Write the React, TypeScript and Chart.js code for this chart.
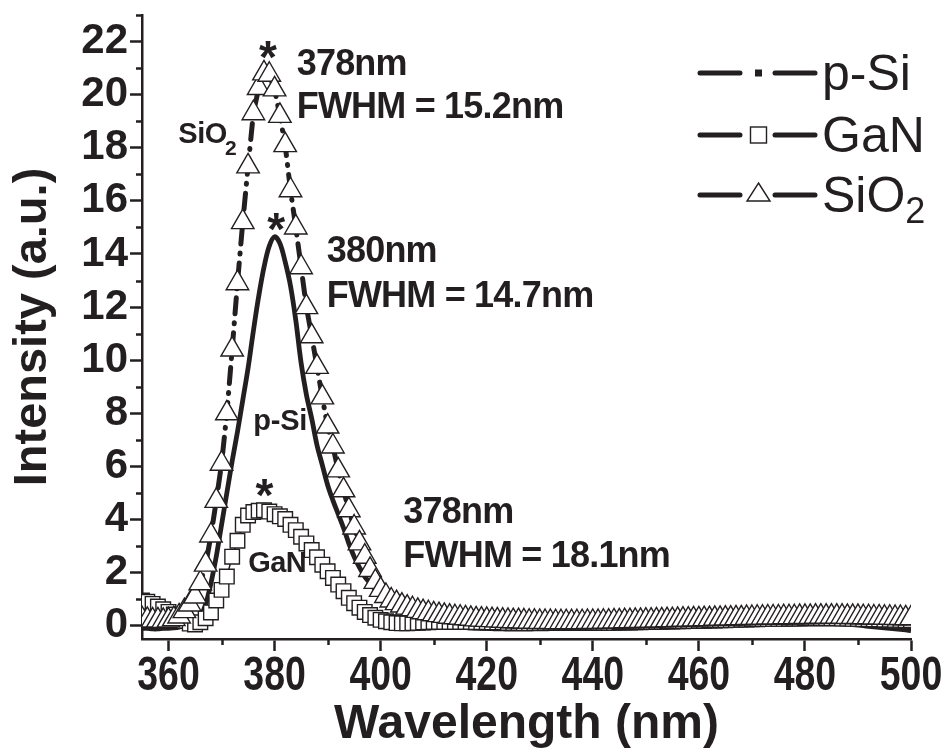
import { useEffect, useRef } from "react";
import { Chart, registerables } from "chart.js";

Chart.register(...registerables);

const FONT = "'Liberation Sans', Arial, Helvetica, sans-serif";
const INK = "#231f20";

// Wavelength grid (nm)
const wavelengths = [
  355, 356, 357, 358, 359, 360, 361, 362, 363, 364,
  365, 366, 367, 368, 369, 370, 371, 372, 373, 374,
  375, 376, 377, 378, 379, 380, 381, 382, 383, 384,
  385, 386, 387, 388, 389, 390, 391, 392, 393, 394,
  395, 396, 397, 398, 399, 400, 401, 402, 403, 404,
  405, 406, 407, 408, 409, 410, 411, 412, 413, 414,
  415, 416, 417, 418, 419, 420, 421, 422, 423, 424,
  425, 426, 427, 428, 429, 430, 431, 432, 433, 434,
  435, 436, 437, 438, 439, 440, 441, 442, 443, 444,
  445, 446, 447, 448, 449, 450, 451, 452, 453, 454,
  455, 456, 457, 458, 459, 460, 461, 462, 463, 464,
  465, 466, 467, 468, 469, 470, 471, 472, 473, 474,
  475, 476, 477, 478, 479, 480, 481, 482, 483, 484,
  485, 486, 487, 488, 489, 490, 491, 492, 493, 494,
  495, 496, 497, 498, 499, 500,
];

// SiO2 (triangles, dash-dot line)
const sio2 = [
  0.25, 0.22, 0.2, 0.2, 0.18, 0.2, 0.25, 0.35, 0.55, 0.8,
  1.1, 1.6, 2.3, 3.4, 4.7, 6.1, 8.0, 10.4, 12.9, 15.2,
  17.3, 19.3, 20.25, 20.8, 20.75, 20.2, 19.2, 18.1, 16.4, 15.0,
  13.5, 12.0, 10.9, 9.75, 8.6, 7.5, 6.75, 5.85, 5.1, 4.35,
  3.7, 3.1, 2.6, 2.1, 1.65, 1.35, 1.12, 0.95, 0.85, 0.76,
  0.68, 0.62, 0.56, 0.51, 0.47, 0.43, 0.4, 0.37, 0.34, 0.32,
  0.3, 0.28, 0.26, 0.24, 0.23, 0.22, 0.21, 0.2, 0.19, 0.18,
  0.17, 0.17, 0.16, 0.15, 0.15, 0.14, 0.14, 0.14, 0.13, 0.13,
  0.13, 0.13, 0.13, 0.13, 0.14, 0.14, 0.14, 0.15, 0.15, 0.16,
  0.16, 0.17, 0.17, 0.18, 0.18, 0.19, 0.19, 0.2, 0.2, 0.21,
  0.21, 0.22, 0.23, 0.23, 0.24, 0.24, 0.25, 0.25, 0.26, 0.26,
  0.27, 0.27, 0.28, 0.28, 0.29, 0.29, 0.3, 0.3, 0.31, 0.31,
  0.31, 0.32, 0.32, 0.32, 0.33, 0.33, 0.33, 0.34, 0.34, 0.34,
  0.34, 0.34, 0.34, 0.33, 0.33, 0.33, 0.32, 0.32, 0.31, 0.31,
  0.3, 0.3, 0.29, 0.29, 0.28, 0.28,
];

// GaN (squares)
const gan = [
  0.95, 0.9, 0.82, 0.72, 0.62, 0.52, 0.42, 0.3, 0.18, 0.08,
  0.05, 0.13, 0.28, 0.5, 0.95, 1.35, 1.85, 2.6, 3.2, 3.8,
  4.15, 4.28, 4.33, 4.35, 4.3, 4.2, 4.12, 4.02, 3.8, 3.6,
  3.35, 3.1, 2.85, 2.58, 2.3, 2.05, 1.8, 1.55, 1.3, 1.05,
  0.85, 0.68, 0.52, 0.4, 0.3, 0.22, 0.17, 0.13, 0.1, 0.09,
  0.09, 0.1, 0.11, 0.12, 0.13, 0.14, 0.14, 0.14, 0.14, 0.14,
  0.14, 0.14, 0.14, 0.13, 0.13, 0.13, 0.12, 0.12, 0.12, 0.11,
  0.11, 0.11, 0.1, 0.1, 0.1, 0.1, 0.1, 0.1, 0.1, 0.1,
  0.1, 0.1, 0.1, 0.1, 0.1, 0.1, 0.1, 0.11, 0.11, 0.11,
  0.12, 0.12, 0.12, 0.13, 0.13, 0.14, 0.14, 0.15, 0.15, 0.16,
  0.16, 0.17, 0.17, 0.18, 0.18, 0.19, 0.19, 0.2, 0.2, 0.21,
  0.21, 0.22, 0.22, 0.23, 0.23, 0.24, 0.24, 0.25, 0.25, 0.26,
  0.26, 0.26, 0.27, 0.27, 0.27, 0.28, 0.28, 0.28, 0.28, 0.28,
  0.28, 0.28, 0.27, 0.27, 0.26, 0.26, 0.25, 0.25, 0.24, 0.24,
  0.23, 0.23, 0.22, 0.22, 0.21, 0.21,
];

// p-Si (solid line)
const psi = [
  -0.1, -0.1, -0.12, -0.12, -0.1, -0.1, -0.08, -0.05, 0.0, 0.05,
  0.15, 0.35, 0.8, 1.6, 2.6, 3.8, 5.0, 6.2, 7.3, 8.5,
  9.7, 11.1, 12.4, 13.5, 14.3, 14.65, 14.4, 13.7, 12.8, 11.5,
  9.9, 8.7, 7.8, 6.8, 6.05, 5.3, 4.72, 4.2, 3.68, 3.1,
  2.6, 2.2, 1.85, 1.6, 1.35, 1.15, 0.95, 0.75, 0.6, 0.47,
  0.37, 0.28, 0.2, 0.14, 0.09, 0.05, 0.02, 0.0, -0.02, -0.04,
  -0.05, -0.07, -0.08, -0.09, -0.1, -0.1, -0.11, -0.12, -0.12, -0.13,
  -0.13, -0.13, -0.13, -0.13, -0.12, -0.12, -0.12, -0.11, -0.11, -0.1,
  -0.1, -0.09, -0.09, -0.08, -0.07, -0.07, -0.06, -0.05, -0.05, -0.04,
  -0.03, -0.02, -0.02, -0.01, 0.0, 0.0, 0.01, 0.02, 0.02, 0.03,
  0.04, 0.04, 0.05, 0.05, 0.06, 0.07, 0.07, 0.08, 0.08, 0.09,
  0.09, 0.1, 0.1, 0.11, 0.11, 0.12, 0.12, 0.13, 0.13, 0.13,
  0.14, 0.14, 0.14, 0.15, 0.15, 0.15, 0.15, 0.14, 0.14, 0.13,
  0.12, 0.1, 0.08, 0.06, 0.04, 0.02, 0.0, -0.02, -0.04, -0.06,
  -0.08, -0.1, -0.12, -0.14, -0.16, -0.18,
];

const xTicks = [360, 380, 400, 420, 440, 460, 480, 500];
const xMinorTicks = [370, 390, 410, 430, 450, 470, 490];
const yTicks = [0, 2, 4, 6, 8, 10, 12, 14, 16, 18, 20, 22];
const yMinorTicks = [1, 3, 5, 7, 9, 11, 13, 15, 17, 19, 21, 23];

// Annotations in data coordinates (x: nm, y: intensity). "center" items are centred on the point,
// the others are left-aligned with their baseline at the point.
const annotations = [
  { text: "*", x: 378.75, y: 21.69, size: 46, weight: "bold", center: true },
  { text: "*", x: 380.3, y: 15.21, size: 46, weight: "bold", center: true },
  { text: "*", x: 378.1, y: 5.17, size: 46, weight: "bold", center: true },
  { text: "378nm", x: 384.17, y: 20.74, size: 36, weight: "bold", spacing: -0.8 },
  { text: "FWHM = 15.2nm", x: 384.17, y: 19.11, size: 36, weight: "bold", spacing: -0.8 },
  { text: "380nm", x: 389.83, y: 13.71, size: 36, weight: "bold", spacing: -0.8 },
  { text: "FWHM = 14.7nm", x: 389.83, y: 12.01, size: 36, weight: "bold", spacing: -0.8 },
  { text: "378nm", x: 404.28, y: 3.86, size: 36, weight: "bold", spacing: -0.8 },
  { text: "FWHM = 18.1nm", x: 404.28, y: 2.22, size: 36, weight: "bold", spacing: -0.8 },
  { text: "SiO", x: 361.85, y: 18.17, size: 29, weight: "bold", spacing: -0.5 },
  { text: "2", x: 370.65, y: 17.73, size: 21, weight: "bold", spacing: 0 },
  { text: "p-Si", x: 376.0, y: 7.37, size: 29, weight: "bold", spacing: -0.3 },
  { text: "GaN", x: 375.02, y: 2.03, size: 29, weight: "bold", spacing: -0.5 },
];

const overlayPlugin = {
  id: "overlay",
  afterDraw(chart: any) {
    const { ctx, scales } = chart;
    const xs = scales.x;
    const ys = scales.y;
    ctx.save();
    // minor ticks
    ctx.strokeStyle = INK;
    ctx.lineWidth = 2.5;
    ctx.lineCap = "butt";
    const axX = xs.left;
    const axY = ys.bottom;
    for (const v of yMinorTicks) {
      const py = Math.round(ys.getPixelForValue(v)) + 0.5;
      ctx.beginPath();
      ctx.moveTo(axX - 6, py);
      ctx.lineTo(axX, py);
      ctx.stroke();
    }
    for (const v of xMinorTicks) {
      const px = Math.round(xs.getPixelForValue(v)) + 0.5;
      ctx.beginPath();
      ctx.moveTo(px, axY);
      ctx.lineTo(px, axY + 6);
      ctx.stroke();
    }

    // x tick labels (condensed bold), positioned by the x scale
    ctx.fillStyle = INK;
    ctx.font = `bold 48px ${FONT}`;
    ctx.textAlign = "center";
    ctx.textBaseline = "alphabetic";
    for (const v of xTicks) {
      const px = xs.getPixelForValue(v);
      ctx.save();
      ctx.translate(px, axY + 51);
      ctx.scale(0.78, 1);
      ctx.fillText(String(v), 0, 0);
      ctx.restore();
    }

    // text annotations
    ctx.textAlign = "left";
    for (const a of annotations) {
      ctx.font = `${a.weight} ${a.size}px ${FONT}`;
      (ctx as any).letterSpacing = `${a.spacing ?? 0}px`;
      const px = xs.getPixelForValue(a.x);
      const py = ys.getPixelForValue(a.y);
      if (a.center) {
        const m = ctx.measureText(a.text);
        const w = m.actualBoundingBoxRight + m.actualBoundingBoxLeft;
        const bx = px - w / 2 + m.actualBoundingBoxLeft;
        const by = py + (m.actualBoundingBoxAscent - m.actualBoundingBoxDescent) / 2;
        ctx.fillText(a.text, bx, by);
      } else {
        ctx.fillText(a.text, px, py);
      }
    }
    (ctx as any).letterSpacing = "0px";

    // legend
    const rows = [
      { label: "p-Si", y: 73, marker: "dot" },
      { label: "GaN", y: 135, marker: "square" },
      { label: "SiO", sub: "2", y: 195, marker: "triangle" },
    ];
    const lx1 = 700, lx2 = 740, rx1 = 775, rx2 = 815, mx = 758.5, tx = 822;
    for (const r of rows) {
      ctx.strokeStyle = INK;
      ctx.lineWidth = 5;
      ctx.lineCap = "round";
      ctx.beginPath();
      ctx.moveTo(lx1, r.y);
      ctx.lineTo(lx2, r.y);
      ctx.moveTo(rx1, r.y);
      ctx.lineTo(rx2, r.y);
      ctx.stroke();
      ctx.lineCap = "butt";
      ctx.lineWidth = 1.4;
      if (r.marker === "dot") {
        ctx.fillStyle = INK;
        ctx.fillRect(mx - 3.5, r.y - 3.5, 7, 7);
      } else if (r.marker === "square") {
        ctx.fillStyle = "#fff";
        ctx.fillRect(mx - 8, r.y - 8, 16, 16);
        ctx.strokeRect(mx - 8, r.y - 8, 16, 16);
      } else {
        ctx.fillStyle = "#fff";
        ctx.beginPath();
        ctx.moveTo(mx, r.y - 12);
        ctx.lineTo(mx + 11.5, r.y + 6);
        ctx.lineTo(mx - 11.5, r.y + 6);
        ctx.closePath();
        ctx.fill();
        ctx.stroke();
      }
      ctx.fillStyle = INK;
      ctx.font = `normal 50px ${FONT}`;
      const base = r.y + 17;
      ctx.fillText(r.label, tx, base);
      if (r.sub) {
        const w = ctx.measureText(r.label).width;
        ctx.font = `normal 36px ${FONT}`;
        ctx.fillText(r.sub, tx + w, base + 11);
      }
    }
    ctx.restore();
  },
};

export default function App() {
  const ref = useRef<HTMLCanvasElement | null>(null);

  useEffect(() => {
    if (!ref.current) return;
    const pts = (vals: number[]) => wavelengths.map((w, i) => ({ x: w, y: vals[i] }));
    const chart = new Chart(ref.current, {
      type: "line",
      data: {
        datasets: [
          {
            label: "SiO2",
            data: pts(sio2),
            borderColor: INK,
            borderWidth: 5,
            borderCapStyle: "round",
            borderDash: [16, 9, 1, 9],
            pointStyle: "triangle",
            pointRadius: 13,
            pointBackgroundColor: "#fff",
            pointBorderColor: INK,
            pointBorderWidth: 1.4,
            tension: 0,
          },
          {
            label: "GaN",
            data: pts(gan),
            borderColor: INK,
            borderWidth: 1.5,
            pointStyle: "rect",
            pointRadius: 10.3,
            pointBackgroundColor: "#fff",
            pointBorderColor: INK,
            pointBorderWidth: 1.4,
            tension: 0,
          },
          {
            label: "p-Si",
            data: pts(psi),
            borderColor: INK,
            borderWidth: 4.8,
            pointRadius: 0,
            tension: 0.35,
          },
        ],
      },
      options: {
        animation: false,
        responsive: false,
        devicePixelRatio: 1,
        events: [],
        layout: { padding: { left: 0, right: 37, top: 15, bottom: 0 } },
        plugins: { legend: { display: false }, tooltip: { enabled: false } },
        scales: {
          x: {
            type: "linear",
            min: 355,
            max: 500,
            afterBuildTicks: (s: any) => {
              s.ticks = xTicks.map((v) => ({ value: v }));
            },
            afterFit: (s: any) => {
              s.height = 117;
              s.paddingLeft = 0;
              s.paddingRight = 0;
            },
            grid: { drawOnChartArea: false, drawTicks: true, tickLength: 12, tickWidth: 2.5, tickColor: INK },
            border: { display: true, color: INK, width: 2.5 },
            ticks: { display: false },
            title: {
              display: true,
              text: "Wavelength (nm)",
              color: INK,
              font: { family: FONT, size: 48, weight: "bold" },
              padding: { top: 0, bottom: 2 },
            },
          },
          y: {
            type: "linear",
            min: -0.5,
            max: 23,
            afterBuildTicks: (s: any) => {
              s.ticks = yTicks.map((v) => ({ value: v }));
            },
            afterFit: (s: any) => {
              s.width = 142;
              s.paddingTop = 0;
              s.paddingBottom = 0;
            },
            grid: { drawOnChartArea: false, drawTicks: true, tickLength: 12, tickWidth: 2.5, tickColor: INK },
            border: { display: true, color: INK, width: 2.5 },
            ticks: {
              autoSkip: false,
              padding: 2,
              color: INK,
              font: { family: FONT, size: 42, weight: "bold" },
            },
            title: {
              display: true,
              text: "Intensity (a.u.)",
              color: INK,
              font: { family: FONT, size: 47, weight: "bold" },
              padding: { top: 5, bottom: 0 },
            },
          },
        },
      },
      plugins: [overlayPlugin],
    });
    return () => chart.destroy();
  }, []);

  return (
    <div style={{ position: "absolute", left: 0, top: 0, width: 948, height: 756, background: "#fff" }}>
      <canvas ref={ref} width={948} height={756} style={{ display: "block" }} />
    </div>
  );
}
